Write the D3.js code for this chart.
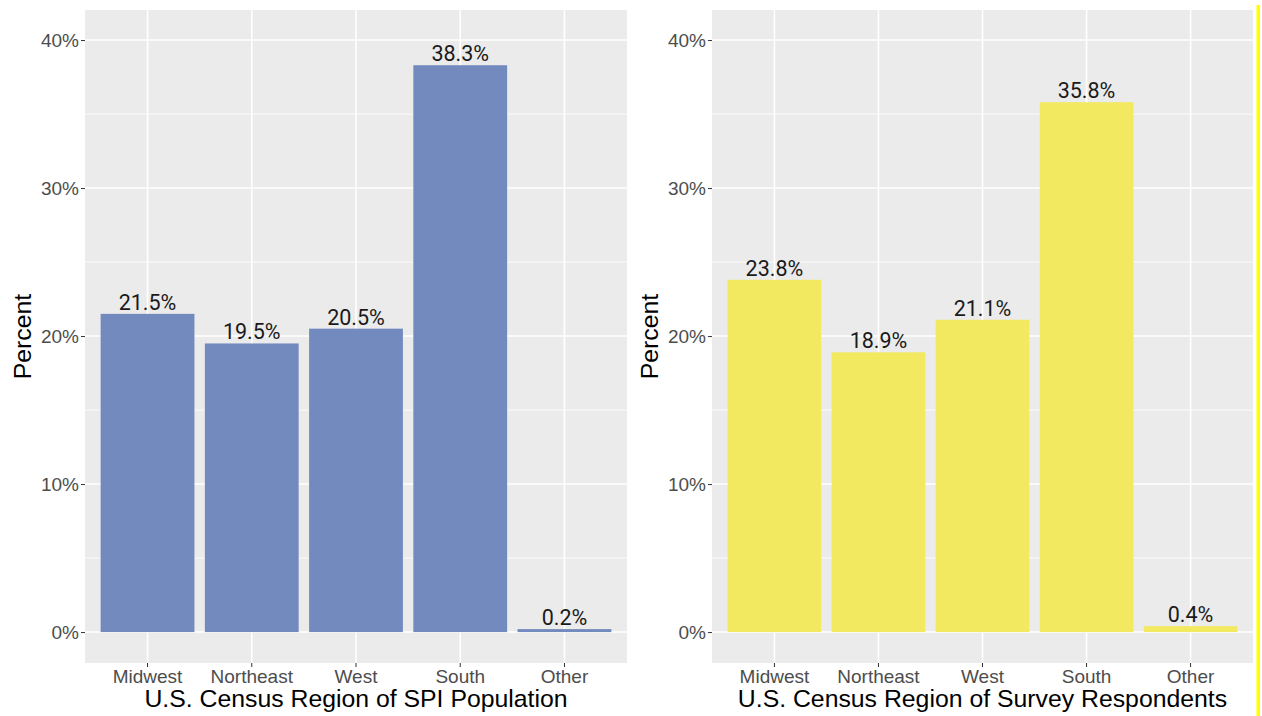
<!DOCTYPE html>
<html>
<head>
<meta charset="utf-8">
<script src="https://cdn.jsdelivr.net/npm/d3@7"></script>
<style>
  html, body { margin: 0; padding: 0; background: #ffffff; }
  svg { display: block; }
</style>
</head>
<body>
<svg id="chart" width="1262" height="716"></svg>
<script>
// ---- data ----
const categories = ["Midwest", "Northeast", "West", "South", "Other"];
const spiValues = [21.5, 19.5, 20.5, 38.3, 0.2];
const surveyValues = [23.8, 18.9, 21.1, 35.8, 0.4];
const yTicks = [0, 10, 20, 30, 40];
const yMinorTicks = [5, 15, 25, 35];
const yLabel = "Percent";
const leftTitle = "U.S. Census Region of SPI Population";
const rightTitle = "U.S. Census Region of Survey Respondents";

const svg = d3.select("#chart");
const panelTop = 10, panelBottom = 663;
const y = d3.scaleLinear().domain([-2.09, 42.03]).range([panelBottom, panelTop]);

function drawPanel(x0, x1, values, color, title) {
  const g = svg.append("g");
  const x = d3.scaleBand().domain(categories).range([x0, x1])
    .paddingInner(0.1).paddingOuter(0.15);

  // panel background
  g.append("rect").attr("x", x0).attr("y", panelTop)
    .attr("width", x1 - x0).attr("height", panelBottom - panelTop)
    .attr("fill", "#EBEBEB");

  // minor grid
  g.selectAll(".minor").data(yMinorTicks).join("line")
    .attr("x1", x0).attr("x2", x1)
    .attr("y1", d => y(d)).attr("y2", d => y(d))
    .attr("stroke", "#ffffff").attr("stroke-width", 0.8);
  // major grid
  g.selectAll(".major").data(yTicks).join("line")
    .attr("x1", x0).attr("x2", x1)
    .attr("y1", d => y(d)).attr("y2", d => y(d))
    .attr("stroke", "#ffffff").attr("stroke-width", 1.6);
  g.selectAll(".vgrid").data(categories).join("line")
    .attr("x1", d => x(d) + x.bandwidth() / 2).attr("x2", d => x(d) + x.bandwidth() / 2)
    .attr("y1", panelTop).attr("y2", panelBottom)
    .attr("stroke", "#ffffff").attr("stroke-width", 1.6);

  // bars
  g.selectAll(".bar").data(values).join("rect")
    .attr("x", (d, i) => x(categories[i]))
    .attr("width", x.bandwidth())
    .attr("y", d => y(d))
    .attr("height", d => y(0) - y(d))
    .attr("fill", color);

  // value labels
  g.selectAll(".val").data(values).join("text")
    .attr("x", (d, i) => x(categories[i]) + x.bandwidth() / 2)
    .attr("y", d => y(d) - 4)
    .attr("text-anchor", "middle")
    .attr("font-family", "Roboto, 'Liberation Sans', sans-serif")
    .attr("font-size", 21.5)
    .attr("fill", "#1a1a1a")
    .text(d => d.toFixed(1) + "%");

  // y axis
  const ya = g.append("g").attr("transform", `translate(${x0},0)`)
    .call(d3.axisLeft(y).tickValues(yTicks).tickFormat(d => d + "%").tickSize(4).tickPadding(2));
  ya.select(".domain").remove();
  ya.selectAll(".tick line").attr("stroke", "#333333").attr("stroke-width", 1);
  ya.selectAll(".tick text").attr("fill", "#4D4D4D")
    .attr("font-family", "'Liberation Sans', Arial, sans-serif").attr("font-size", 19);

  // x axis
  const xa = g.append("g").attr("transform", `translate(0,${panelBottom})`)
    .call(d3.axisBottom(x).tickSize(4).tickPadding(3));
  xa.select(".domain").remove();
  xa.selectAll(".tick line").attr("stroke", "#333333").attr("stroke-width", 1);
  xa.selectAll(".tick text").attr("fill", "#4D4D4D")
    .attr("font-family", "'Liberation Sans', Arial, sans-serif").attr("font-size", 19);

  // axis titles
  g.append("text")
    .attr("x", (x0 + x1) / 2).attr("y", 707)
    .attr("text-anchor", "middle")
    .attr("font-family", "'Liberation Sans', Arial, sans-serif")
    .attr("font-size", 24.8).attr("fill", "#000000")
    .text(title);
  g.append("text")
    .attr("transform", `translate(${x0 - 54},${(panelTop + panelBottom) / 2}) rotate(-90)`)
    .attr("text-anchor", "middle")
    .attr("font-family", "'Liberation Sans', Arial, sans-serif")
    .attr("font-size", 24.8).attr("fill", "#000000")
    .text(yLabel);
}

drawPanel(85, 627, spiValues, "#738ABF", leftTitle);
drawPanel(712, 1253, surveyValues, "#F2E960", rightTitle);

// yellow vertical line at right edge
svg.append("rect").attr("x", 1256.5).attr("y", 5).attr("width", 3.5).attr("height", 711)
  .attr("fill", "#FFFF00");
</script>
</body>
</html>
